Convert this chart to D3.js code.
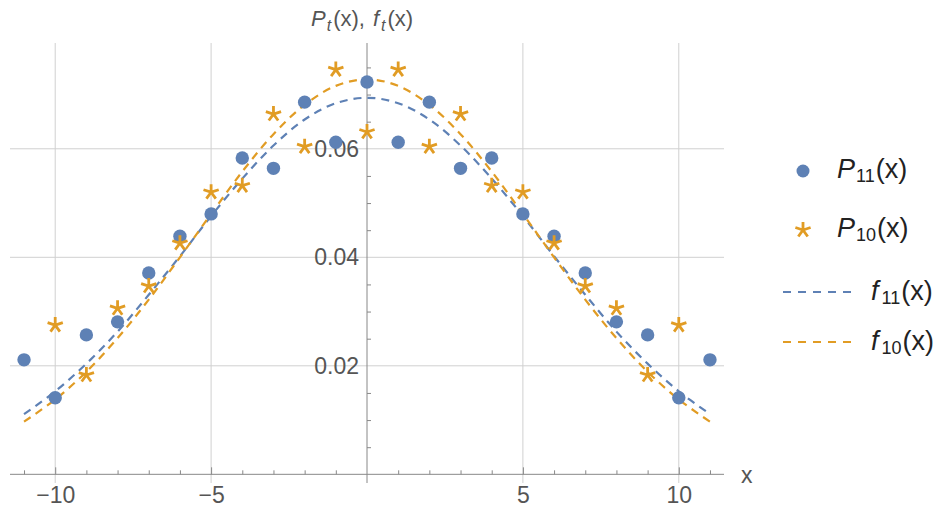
<!DOCTYPE html>
<html><head><meta charset="utf-8">
<script src="https://cdn.jsdelivr.net/npm/d3@7"></script>
<style>
body{margin:0;background:#fff;}
svg{display:block;font-family:"Liberation Sans",Arial,sans-serif;}
</style></head>
<body><svg id="chart" width="945" height="510"></svg>
<script>
// ---- data ----
const xsP11 = [-11,-10,-9,-8,-7,-6,-5,-4,-3,-2,-1,0,1,2,3,4,5,6,7,8,9,10,11];
const p11 = [0.0211,0.0141,0.0257,0.0281,0.0371,0.0439,0.0480,0.0583,0.0564,0.0686,0.0612,0.0723,
             0.0612,0.0686,0.0564,0.0583,0.0480,0.0439,0.0371,0.0281,0.0257,0.0141,0.0211];
const xsP10 = [-10,-9,-8,-7,-6,-5,-4,-3,-2,-1,0,1,2,3,4,5,6,7,8,9,10];
const p10 = [0.0275,0.0183,0.0306,0.0347,0.0426,0.0520,0.0532,0.0664,0.0604,0.0746,0.0631,
             0.0746,0.0604,0.0664,0.0532,0.0520,0.0426,0.0347,0.0306,0.0183,0.0275];
const xsF = [-11,-10,-9,-8,-7,-6,-5,-4,-3,-2,-1,0,1,2,3,4,5,6,7,8,9,10,11];
const f11 = [0.0111,0.0153,0.0204,0.0263,0.0331,0.0402,0.0476,0.0545,0.0606,0.0654,0.0684,0.0694,
             0.0684,0.0654,0.0606,0.0545,0.0476,0.0402,0.0331,0.0263,0.0204,0.0153,0.0111];
const f10 = [0.0097,0.0138,0.0189,0.0251,0.0322,0.0400,0.0480,0.0558,0.0627,0.0681,0.0716,0.0728,
             0.0716,0.0681,0.0627,0.0558,0.0480,0.0400,0.0322,0.0251,0.0189,0.0138,0.0097];
const xTickLabels = [-10,-5,5,10];
const yTickLabels = [0.02,0.04,0.06];
const legendLabels = [["P","11"],["P","10"],["f","11"],["f","10"]];

const BLUE = "#5E81B5", ORANGE = "#E19C24";
const svg = d3.select("#chart");
const x = d3.scaleLinear().domain([-11.45, 11.45]).range([10, 724]);
const y = d3.scaleLinear().domain([-0.0016, 0.0795]).range([483, 43]);

// gridlines
const grid = svg.append("g");
grid.selectAll("line.v").data(xTickLabels).join("line")
  .attr("x1", d=>x(d)).attr("x2", d=>x(d)).attr("y1", y.range()[1]).attr("y2", y.range()[0])
  .attr("stroke", "#d0d0d0").attr("stroke-width", 1);
grid.selectAll("line.h").data(yTickLabels).join("line")
  .attr("y1", d=>y(d)).attr("y2", d=>y(d)).attr("x1", x.range()[0]).attr("x2", x.range()[1])
  .attr("stroke", "#d0d0d0").attr("stroke-width", 1);

const AX = "#888";
// x axis (minor ticks pointing up)
const xMinor = d3.range(-11, 12).filter(d=>d!==0);
const gx = svg.append("g").attr("transform", `translate(0,${y(0)})`)
  .call(d3.axisTop(x).tickValues(xMinor).tickSize(4).tickFormat(""));
gx.select(".domain").attr("stroke", AX).attr("d", `M${x.range()[0]},0H${x.range()[1]}`);
gx.selectAll(".tick line").attr("stroke", AX);
gx.selectAll(".tick").filter(d=>d%5===0).select("line").attr("y2", -7);
const gxl = svg.append("g").attr("transform", `translate(0,${y(0)})`)
  .call(d3.axisBottom(x).tickValues(xTickLabels).tickSize(0).tickPadding(12).tickFormat(d3.format("d")));
gxl.select(".domain").remove();
gxl.selectAll("text").attr("font-size", 23).attr("fill", "#555").attr("font-family", "Liberation Sans, Arial, sans-serif");

// y axis
const yMinor = d3.range(0.005, 0.0795, 0.005).filter(d=>Math.abs(d/0.02-Math.round(d/0.02))>1e-6);
const gy = svg.append("g").attr("transform", `translate(${x(0)},0)`)
  .call(d3.axisRight(y).tickValues(yMinor).tickSize(4).tickFormat(""));
gy.select(".domain").attr("stroke", AX).attr("d", `M0,${y.range()[0]}V${y.range()[1]}`);
gy.selectAll(".tick line").attr("stroke", AX);
const gyl = svg.append("g").attr("transform", `translate(${x(0)},0)`)
  .call(d3.axisLeft(y).tickValues(yTickLabels).tickSize(0).tickPadding(8).tickFormat(d3.format(".2f")));
gyl.select(".domain").remove();
gyl.selectAll("text").attr("font-size", 23).attr("fill", "#555").attr("font-family", "Liberation Sans, Arial, sans-serif");

// axis label x
svg.append("text").attr("x", 741).attr("y", 483).attr("font-size", 23).attr("fill", "#555").text("x");

// title
const title = svg.append("text").attr("x", 311).attr("y", 26).attr("font-size", 22).attr("fill", "#555");
title.append("tspan").attr("font-style","italic").text("P");
title.append("tspan").attr("font-size","16").attr("dx", 1).attr("dy", 5).attr("font-style","italic").text("t");
title.append("tspan").attr("dx", 2).attr("dy", -5).text("(x),");
title.append("tspan").attr("dx", 8).attr("font-style","italic").text("f");
title.append("tspan").attr("font-size","16").attr("dx", 2).attr("dy", 5).attr("font-style","italic").text("t");
title.append("tspan").attr("dx", 2).attr("dy", -5).text("(x)");

// curves
const line = d3.line().x(d=>x(d[0])).y(d=>y(d[1])).curve(d3.curveCatmullRom);
svg.append("path").datum(xsF.map((v,i)=>[v,f11[i]])).attr("d", line)
  .attr("fill","none").attr("stroke", BLUE).attr("stroke-width", 2.2).attr("stroke-dasharray","8,6");
svg.append("path").datum(xsF.map((v,i)=>[v,f10[i]])).attr("d", line)
  .attr("fill","none").attr("stroke", ORANGE).attr("stroke-width", 2.2).attr("stroke-dasharray","8,6");

// star path
function starPath(r){
  let p = "";
  for(let k=0;k<5;k++){
    const a = (-90 + 72*k) * Math.PI/180;
    p += `M0,0L${(r*Math.cos(a)).toFixed(2)},${(r*Math.sin(a)).toFixed(2)}`;
  }
  return p;
}
// points
svg.append("g").selectAll("circle").data(xsP11.map((v,i)=>[v,p11[i]])).join("circle")
  .attr("cx", d=>x(d[0])).attr("cy", d=>y(d[1])).attr("r", 6.7).attr("fill", BLUE);
svg.append("g").selectAll("path").data(xsP10.map((v,i)=>[v,p10[i]])).join("path")
  .attr("transform", d=>`translate(${x(d[0])},${y(d[1])})`).attr("d", starPath(8))
  .attr("stroke", ORANGE).attr("stroke-width", 2.8).attr("fill","none");

// legend
const lg = svg.append("g");
lg.append("circle").attr("cx", 803).attr("cy", 171).attr("r", 6.5).attr("fill", BLUE);
lg.append("path").attr("transform","translate(803,230)").attr("d", starPath(8))
  .attr("stroke", ORANGE).attr("stroke-width", 2.8).attr("fill","none");
lg.append("line").attr("x1",783).attr("x2",858).attr("y1",292).attr("y2",292)
  .attr("stroke", BLUE).attr("stroke-width",2.2).attr("stroke-dasharray","8,7");
lg.append("line").attr("x1",783).attr("x2",858).attr("y1",342).attr("y2",342)
  .attr("stroke", ORANGE).attr("stroke-width",2.2).attr("stroke-dasharray","8,7");
const legendPos = [[837,178],[837,237],[871,300],[871,350]];
legendLabels.forEach(([b,s],i)=>{
  const [lx,ly] = legendPos[i];
  const t = lg.append("text").attr("x", lx).attr("y", ly).attr("font-size", 27).attr("fill", "#222");
  t.append("tspan").attr("font-style","italic").text(b);
  t.append("tspan").attr("font-size", 18).attr("dx", b==="f"?3:1).attr("dy", 4).text(s);
  t.append("tspan").attr("dx", 1).attr("dy", -4).text("(x)");
});
</script></body></html>
